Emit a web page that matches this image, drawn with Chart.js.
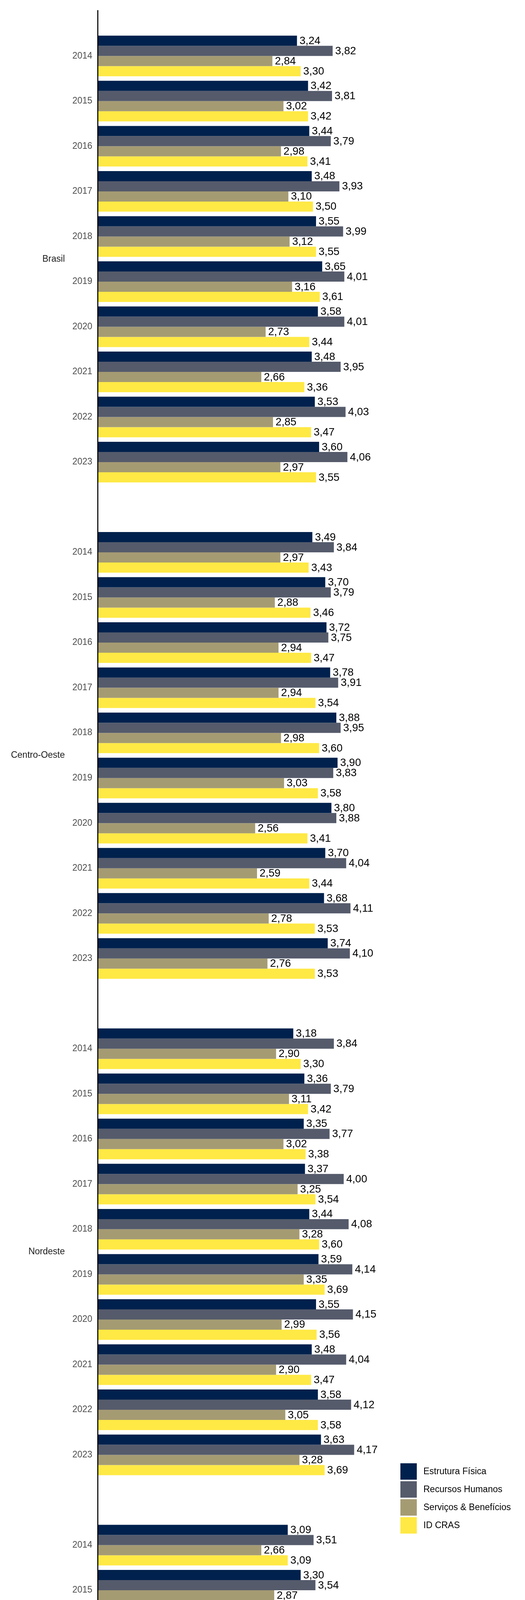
<!DOCTYPE html>
<html lang="pt-BR">
<head>
<meta charset="utf-8">
<title>Indicadores CRAS por região</title>
<script src="https://cdn.jsdelivr.net/npm/chart.js@4.4.1/dist/chart.umd.min.js"></script>
<style>
  html, body { margin: 0; padding: 0; background: #fff; }
  canvas { display: block; }
</style>
</head>
<body>
<canvas id="crasChart" width="1344" height="7680"></canvas>
<script>
const regions = ["Brasil", "Centro-Oeste", "Nordeste", "Norte", "Sudeste", "Sul"];
const years = ["2014", "2015", "2016", "2017", "2018", "2019", "2020", "2021", "2022", "2023"];
const seriesNames = ["Estrutura Física", "Recursos Humanos", "Serviços & Benefícios", "ID CRAS"];
const seriesColors = ["#00214d", "#555b6b", "#a59b73", "#ffe945"];

// one row per region, in the order of `regions`
const estruturaFisica = [
  [3.24, 3.42, 3.44, 3.48, 3.55, 3.65, 3.58, 3.48, 3.53, 3.60],
  [3.49, 3.70, 3.72, 3.78, 3.88, 3.90, 3.80, 3.70, 3.68, 3.74],
  [3.18, 3.36, 3.35, 3.37, 3.44, 3.59, 3.55, 3.48, 3.58, 3.63],
  [3.09, 3.30, 3.34, 3.28, 3.29, 3.39, 3.45, 3.38, 3.34, 3.45],
  [3.28, 3.40, 3.44, 3.45, 3.53, 3.64, 3.53, 3.41, 3.45, 3.52],
  [3.24, 3.51, 3.54, 3.68, 3.72, 3.78, 3.70, 3.60, 3.60, 3.72]
];
const recursosHumanos = [
  [3.82, 3.81, 3.79, 3.93, 3.99, 4.01, 4.01, 3.95, 4.03, 4.06],
  [3.84, 3.79, 3.75, 3.91, 3.95, 3.83, 3.88, 4.04, 4.11, 4.10],
  [3.84, 3.79, 3.77, 4.00, 4.08, 4.14, 4.15, 4.04, 4.12, 4.17],
  [3.51, 3.54, 3.53, 3.88, 3.89, 3.92, 3.98, 3.88, 3.96, 4.02],
  [3.83, 3.85, 3.83, 3.89, 3.95, 3.97, 3.96, 3.90, 3.98, 4.02],
  [3.91, 3.90, 3.87, 3.90, 3.94, 3.99, 3.92, 3.87, 3.97, 3.97]
];
const servicosBeneficios = [
  [2.84, 3.02, 2.98, 3.10, 3.12, 3.16, 2.73, 2.66, 2.85, 2.97],
  [2.97, 2.88, 2.94, 2.94, 2.98, 3.03, 2.56, 2.59, 2.78, 2.76],
  [2.90, 3.11, 3.02, 3.25, 3.28, 3.35, 2.99, 2.90, 3.05, 3.28],
  [2.66, 2.87, 2.91, 2.91, 2.93, 2.98, 2.62, 2.65, 2.77, 2.77],
  [2.78, 2.99, 2.95, 3.03, 3.01, 3.01, 2.60, 2.51, 2.72, 2.81],
  [2.87, 3.04, 3.02, 3.14, 3.20, 3.22, 2.62, 2.57, 2.81, 2.90]
];
const idCras = [
  [3.30, 3.42, 3.41, 3.50, 3.55, 3.61, 3.44, 3.36, 3.47, 3.55],
  [3.43, 3.46, 3.47, 3.54, 3.60, 3.58, 3.41, 3.44, 3.53, 3.53],
  [3.30, 3.42, 3.38, 3.54, 3.60, 3.69, 3.56, 3.47, 3.58, 3.69],
  [3.09, 3.24, 3.26, 3.35, 3.37, 3.43, 3.35, 3.31, 3.36, 3.41],
  [3.30, 3.41, 3.41, 3.45, 3.50, 3.54, 3.36, 3.27, 3.39, 3.45],
  [3.34, 3.49, 3.48, 3.57, 3.62, 3.67, 3.41, 3.35, 3.46, 3.53]
];

const FONT = "'Liberation Sans', Arial, Helvetica, sans-serif";

// an empty category before, between and after the regions keeps the gaps
const labels = [""];
regions.forEach(() => { labels.push(...years, ""); });

function flatten(rows) {
  const out = [null];
  rows.forEach((row) => { out.push(...row, null); });
  return out;
}

const datasets = [estruturaFisica, recursosHumanos, servicosBeneficios, idCras].map((rows, i) => ({
  label: seriesNames[i],
  data: flatten(rows),
  backgroundColor: seriesColors[i],
  borderWidth: 0,
  categoryPercentage: 0.9,
  barPercentage: 1
}));

const formatValue = (v) => v.toFixed(2).replace(".", ",");

const valueLabels = {
  id: "valueLabels",
  afterDatasetsDraw(chart) {
    const ctx = chart.ctx;
    ctx.save();
    ctx.font = `27.5px ${FONT}`;
    ctx.fillStyle = "#000";
    ctx.textAlign = "left";
    ctx.textBaseline = "middle";
    chart.data.datasets.forEach((ds, i) => {
      chart.getDatasetMeta(i).data.forEach((bar, j) => {
        const v = ds.data[j];
        if (v === null) return;
        ctx.fillText(formatValue(v), bar.x + 6.5, bar.y + 1);
      });
    });
    ctx.restore();
  }
};

const regionLabels = {
  id: "regionLabels",
  afterDraw(chart) {
    const ctx = chart.ctx;
    const y = chart.scales.y;
    ctx.save();
    ctx.font = `23px ${FONT}`;
    ctx.fillStyle = "#1a1a1a";
    ctx.textAlign = "right";
    ctx.textBaseline = "middle";
    regions.forEach((name, r) => {
      const first = 1 + r * (years.length + 1);
      const last = first + years.length - 1;
      const mid = (y.getPixelForValue(first) + y.getPixelForValue(last)) / 2;
      ctx.fillText(name, 166, mid);
    });
    ctx.restore();
  }
};

const sideLegend = {
  id: "sideLegend",
  afterDraw(chart) {
    const ctx = chart.ctx;
    const box = 42, step = 46, left = 1025;
    const top = chart.height / 2 - (step * seriesNames.length - (step - box)) / 2 - 4;
    ctx.save();
    ctx.font = `23px ${FONT}`;
    ctx.textAlign = "left";
    ctx.textBaseline = "middle";
    seriesNames.forEach((name, i) => {
      const y0 = top + i * step;
      ctx.fillStyle = seriesColors[i];
      ctx.fillRect(left, y0, box, box);
      ctx.fillStyle = "#000";
      ctx.fillText(name, left + 59, y0 + box / 2 + 1);
    });
    ctx.restore();
  }
};

new Chart(document.getElementById("crasChart"), {
  type: "bar",
  data: { labels, datasets },
  options: {
    indexAxis: "y",
    responsive: false,
    animation: false,
    devicePixelRatio: 1,
    layout: { padding: { top: 14.6, bottom: 23, left: 0, right: 306.7 } },
    plugins: { legend: { display: false }, tooltip: { enabled: false } },
    scales: {
      x: { display: false, min: 0, max: 5 },
      y: {
        type: "category",
        offset: false,
        grid: { display: false, drawTicks: false },
        border: { display: true, color: "#000", width: 2.7, z: 1 },
        ticks: {
          autoSkip: false,
          padding: 14,
          color: "#4d4d4d",
          font: { family: FONT, size: 23 }
        },
        afterFit(scale) { scale.width = 250.3; }
      }
    }
  },
  plugins: [valueLabels, regionLabels, sideLegend]
});
</script>
</body>
</html>
